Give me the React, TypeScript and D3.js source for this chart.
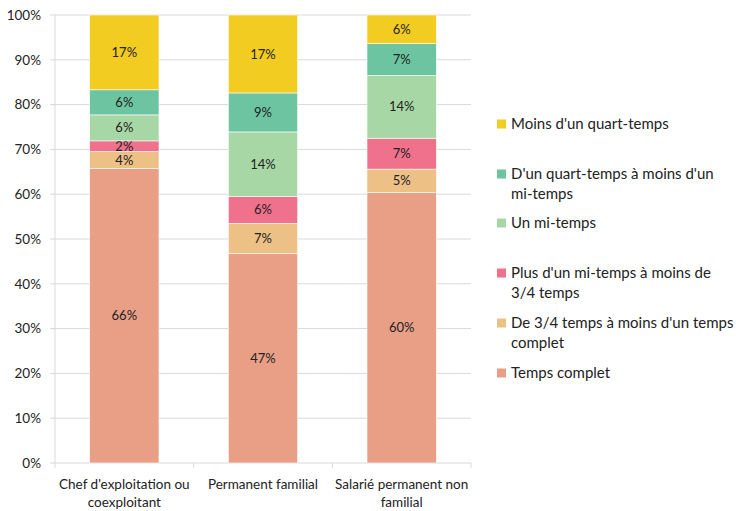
import React from "react";
import * as d3 from "d3";

const categories = [
  ["Chef d'exploitation ou", "coexploitant"],
  ["Permanent familial"],
  ["Salarié permanent non", "familial"],
];

const seriesNames = [
  "Temps complet",
  "De 3/4 temps à moins d'un temps complet",
  "Plus d'un mi-temps à moins de 3/4 temps",
  "Un mi-temps",
  "D'un quart-temps à moins d'un mi-temps",
  "Moins d'un quart-temps",
];

// values per series, one entry per category (percent)
const tempsComplet = [65.7, 46.8, 60.4];
const troisQuarts = [3.8, 6.7, 5.2];
const plusMiTemps = [2.4, 6.0, 6.9];
const miTemps = [5.8, 14.4, 14.0];
const quartTemps = [5.6, 8.7, 7.1];
const moinsQuart = [16.7, 17.4, 6.4];

const seriesValues = [tempsComplet, troisQuarts, plusMiTemps, miTemps, quartTemps, moinsQuart];
const colors = ["#E89F86", "#EDC086", "#F0718C", "#A8D7A6", "#6CC5A0", "#F2CC21"];

const yTicks = [0, 10, 20, 30, 40, 50, 60, 70, 80, 90, 100];

// legend, top to bottom, as wrapped lines
const legendLines: string[][] = [
  ["Moins d'un quart-temps"],
  ["D'un quart-temps à moins d'un", "mi-temps"],
  ["Un mi-temps"],
  ["Plus d'un mi-temps à moins de", "3/4 temps"],
  ["De 3/4 temps à moins d'un temps", "complet"],
  ["Temps complet"],
];
const legendColors = ["#F2CC21", "#6CC5A0", "#A8D7A6", "#F0718C", "#EDC086", "#E89F86"];
const legendY = [124, 174, 223, 273, 323, 373];

const FONT = "Lato, 'Open Sans', sans-serif";

export default function App() {
  const W = 736;
  const H = 511;
  const left = 55;
  const right = 471;
  const top = 15;
  const bottom = 463;

  const x = d3
    .scaleBand<number>()
    .domain(categories.map((_, i) => i))
    .range([left, right])
    .paddingInner(0.5)
    .paddingOuter(0.25);
  const y = d3.scaleLinear().domain([0, 100]).range([bottom, top]);

  const stackData = categories.map((_, ci) => {
    const row: Record<string, number> = {};
    seriesNames.forEach((s, si) => (row[s] = seriesValues[si][ci]));
    return row;
  });
  const stacked = d3.stack<Record<string, number>>().keys(seriesNames)(stackData);

  const step = (right - left) / categories.length;
  const boundaries = d3.range(categories.length + 1).map((i) => left + i * step);

  return (
    <svg width={W} height={H} style={{ position: "absolute", left: 0, top: 0 }} fontFamily={FONT}>
      <rect width={W} height={H} fill="#fff" />
      {yTicks.map((t) => (
        <g key={t}>
          <line x1={left} x2={right} y1={y(t)} y2={y(t)} stroke="#D9D9D9" strokeWidth={1} />
          <line x1={left - 5} x2={left} y1={y(t)} y2={y(t)} stroke="#D9D9D9" strokeWidth={1} />
          <text x={41} y={y(t)} dy="0.35em" textAnchor="end" fontSize={13.5} fill="#222">
            {t}%
          </text>
        </g>
      ))}
      <line x1={left} x2={left} y1={top} y2={bottom} stroke="#D9D9D9" />
      {boundaries.map((b, i) => (
        <line key={i} x1={b} x2={b} y1={bottom} y2={bottom + 5} stroke="#D9D9D9" />
      ))}
      {stacked.map((layer, si) => (
        <g key={si}>
          {layer.map((d, ci) => (
            <rect
              key={ci}
              x={x(ci)}
              width={x.bandwidth()}
              y={y(d[1])}
              height={y(d[0]) - y(d[1])}
              fill={colors[si]}
              stroke="#fff"
              strokeWidth={0.6}
            />
          ))}
          {layer.map((d, ci) => (
            <text
              key={"t" + ci}
              x={(x(ci) as number) + x.bandwidth() / 2}
              y={(y(d[0]) + y(d[1])) / 2}
              dy="0.35em"
              textAnchor="middle"
              fontSize={13}
              fill="#222"
            >
              {Math.round(seriesValues[si][ci])}%
            </text>
          ))}
        </g>
      ))}
      {categories.map((lines, ci) =>
        lines.map((ln, li) => (
          <text
            key={ci + "-" + li}
            x={(x(ci) as number) + x.bandwidth() / 2}
            y={484 + li * 18}
            dy="0.35em"
            textAnchor="middle"
            fontSize={13.5}
            fill="#222"
          >
            {ln}
          </text>
        ))
      )}
      {legendLines.map((lines, i) => (
        <g key={i}>
          <rect x={497} y={legendY[i] - 4.5} width={9} height={9} fill={legendColors[i]} />
          {lines.map((ln, li) => (
            <text key={li} x={511} y={legendY[i] + li * 20} dy="0.35em" fontSize={15} fill="#222">
              {ln}
            </text>
          ))}
        </g>
      ))}
    </svg>
  );
}
